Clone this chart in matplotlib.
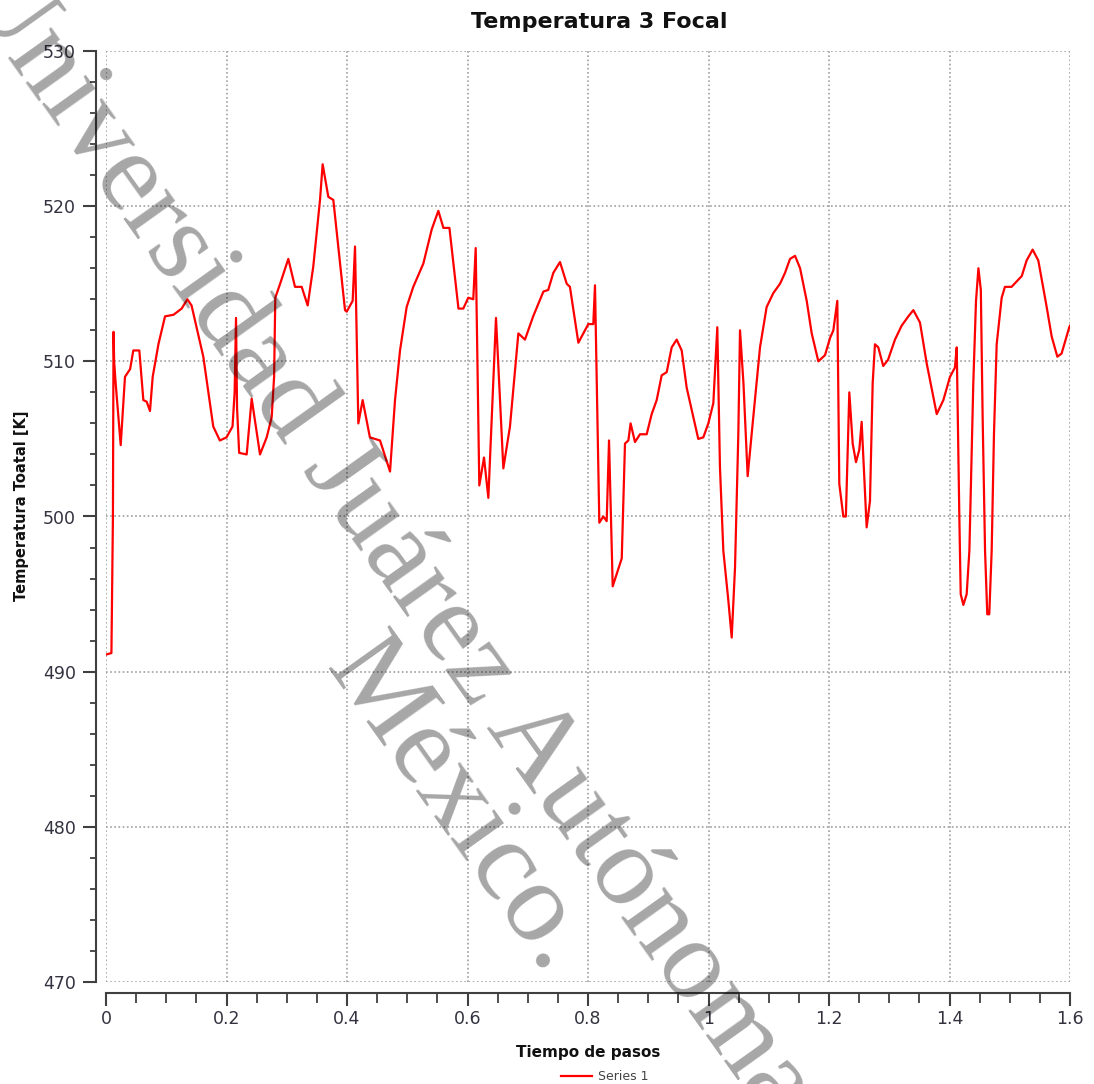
import matplotlib
matplotlib.use("Agg")
import matplotlib.pyplot as plt
from matplotlib.ticker import MultipleLocator, FixedLocator, FixedFormatter

# ---- data ----
tiempo = [0.000, 0.009, 0.0115, 0.0125, 0.0135, 0.016, 0.0244, 0.0315, 0.040, 0.0453,
          0.0553, 0.062, 0.0675, 0.073, 0.0775, 0.087, 0.098, 0.112, 0.1256, 0.135,
          0.142, 0.1615, 0.178, 0.189, 0.200, 0.210, 0.2135, 0.2158, 0.2175, 0.221,
          0.2335, 0.2418, 0.2556, 0.2667, 0.275, 0.279, 0.281, 0.289, 0.3026, 0.3137,
          0.3248, 0.3347, 0.344, 0.3552, 0.3596, 0.369, 0.3773, 0.3884, 0.3967, 0.3995,
          0.4094, 0.4133, 0.4188, 0.426, 0.438, 0.4548, 0.4714, 0.4797, 0.488, 0.499,
          0.510, 0.5267, 0.5406, 0.5516, 0.560, 0.570, 0.585, 0.593, 0.6013, 0.6096,
          0.6136, 0.6196, 0.6274, 0.6346, 0.6473, 0.6595, 0.6705, 0.6844, 0.6954, 0.709,
          0.726, 0.734, 0.7424, 0.7535, 0.7647, 0.770, 0.784, 0.7978, 0.8005, 0.8088,
          0.8116, 0.8188, 0.8254, 0.831, 0.8349, 0.841, 0.8476, 0.856, 0.8614, 0.867,
          0.8707, 0.878, 0.8863, 0.8974, 0.9057, 0.914, 0.9223, 0.9306, 0.9389, 0.9472,
          0.9555, 0.9638, 0.9748, 0.983, 0.9914, 0.9997, 1.008, 1.0146, 1.019, 1.0246,
          1.0329, 1.0385, 1.044, 1.0495, 1.0523, 1.058, 1.065, 1.0743, 1.0855, 1.0965,
          1.1076, 1.1187, 1.127, 1.1353, 1.1436, 1.152, 1.163, 1.1713, 1.1823, 1.1934,
          1.2017, 1.2072, 1.2138, 1.2171, 1.2238, 1.228, 1.2337, 1.2393, 1.2448, 1.2503,
          1.2542, 1.2625, 1.268, 1.2725, 1.2763, 1.2818, 1.29, 1.298, 1.3095, 1.3206,
          1.3317, 1.34, 1.351, 1.362, 1.3788, 1.3898, 1.4008, 1.409, 1.412, 1.4163,
          1.4186, 1.423, 1.4285, 1.433, 1.4395, 1.444, 1.448, 1.452, 1.455, 1.459,
          1.4627, 1.466, 1.47, 1.4738, 1.4783, 1.4866, 1.492, 1.503, 1.52, 1.528,
          1.538, 1.5474, 1.5613, 1.5696, 1.579, 1.586, 1.5988, 1.6]

temperatura = [491.1, 491.2, 500.0, 511.9, 510.0, 508.6, 504.6, 509.0, 509.5, 510.7,
               510.7, 507.5, 507.4, 506.8, 509.0, 511.1, 512.9, 513.0, 513.4, 514.0,
               513.6, 510.3, 505.8, 504.9, 505.1, 505.8, 508.0, 512.8, 507.0, 504.1,
               504.0, 507.6, 504.0, 505.1, 506.4, 509.0, 514.1, 515.0, 516.6, 514.8,
               514.8, 513.6, 516.1, 520.4, 522.7, 520.6, 520.4, 516.3, 513.3, 513.2,
               513.9, 517.4, 506.0, 507.5, 505.1, 504.9, 502.9, 507.5, 510.7, 513.5,
               514.8, 516.3, 518.5, 519.7, 518.6, 518.6, 513.4, 513.4, 514.1, 514.0,
               517.3, 502.0, 503.8, 501.2, 512.8, 503.1, 505.8, 511.8, 511.4, 512.9,
               514.5, 514.6, 515.7, 516.4, 515.0, 514.8, 511.2, 512.2, 512.4, 512.4,
               514.9, 499.6, 500.0, 499.7, 504.9, 495.5, 496.3, 497.3, 504.7, 504.9,
               506.0, 504.8, 505.3, 505.3, 506.6, 507.5, 509.1, 509.3, 510.9, 511.4,
               510.7, 508.3, 506.4, 505.0, 505.1, 506.0, 507.3, 512.2, 503.2, 497.8,
               494.6, 492.2, 496.7, 505.3, 512.0, 508.6, 502.6, 506.4, 510.9, 513.5,
               514.4, 515.0, 515.7, 516.6, 516.8, 516.0, 513.9, 511.8, 510.0, 510.4,
               511.5, 512.0, 513.9, 502.1, 500.0, 500.0, 508.0, 504.7, 503.5, 504.3,
               506.1, 499.3, 501.0, 508.6, 511.1, 510.9, 509.7, 510.1, 511.4, 512.3,
               512.9, 513.3, 512.5, 509.9, 506.6, 507.5, 509.0, 509.6, 510.9, 500.0,
               495.0, 494.3, 495.0, 497.8, 508.6, 513.9, 516.0, 514.6, 506.4, 497.8,
               493.7, 493.7, 497.8, 505.3, 511.1, 514.1, 514.8, 514.8, 515.5, 516.5,
               517.2, 516.5, 513.5, 511.6, 510.3, 510.5, 512.2, 512.3]

x_ticks = [0, 0.2, 0.4, 0.6, 0.8, 1.0, 1.2, 1.4, 1.6]
x_tick_labels = ["0", "0.2", "0.4", "0.6", "0.8", "1", "1.2", "1.4", "1.6"]
y_ticks = [470, 480, 490, 500, 510, 520, 530]
y_tick_labels = ["470", "480", "490", "500", "510", "520", "530"]

title = "Temperatura 3 Focal"
x_label = "Tiempo de pasos"
y_label = "Temperatura Toatal [K]"
series_name = "Series 1"
watermark_1 = "Universidad Juárez Autónoma"
watermark_2 = "México."

W, H = 1094, 1084
fig = plt.figure(figsize=(W / 100, H / 100), dpi=100)
ax = fig.add_axes([106 / W, 1 - 982 / H, (1070 - 106) / W, (982 - 51) / H])

line, = ax.plot(tiempo, temperatura, color="#ff0000", lw=1.6, label=series_name)

ax.set_xlim(0, 1.6)
ax.set_ylim(470, 530)

ax.xaxis.set_major_locator(FixedLocator(x_ticks))
ax.xaxis.set_major_formatter(FixedFormatter(x_tick_labels))
ax.xaxis.set_minor_locator(MultipleLocator(0.05))
ax.yaxis.set_major_locator(FixedLocator(y_ticks))
ax.yaxis.set_major_formatter(FixedFormatter(y_tick_labels))
ax.yaxis.set_minor_locator(MultipleLocator(2))

ax.grid(True, which="major", linestyle=(0, (1, 1.5)), color="#a0a0a0", lw=1.2)
ax.set_axisbelow(True)

for s in ["top", "right"]:
    ax.spines[s].set_visible(False)
ax.spines["left"].set_position(("outward", 7.2))
ax.spines["bottom"].set_position(("outward", 8.0))
for s in ["left", "bottom"]:
    ax.spines[s].set_color("#404040")
    ax.spines[s].set_linewidth(1.5)

ax.tick_params(axis="both", which="major", direction="out", length=9.5, width=1.5,
               color="#404040", labelsize=12.5, labelcolor="#333340")
ax.tick_params(axis="y", which="major", pad=5)
ax.tick_params(axis="x", which="major", pad=3)
ax.tick_params(axis="y", which="minor", direction="out", length=4.5, width=1.3,
               color="#404040")
ax.tick_params(axis="x", which="minor", direction="out", length=7, width=1.3,
               color="#404040")

fig.text(599 / W, 1 - 22 / H, title, ha="center", va="center",
         fontsize=16, fontweight="bold", color="#111111")
fig.text(588 / W, 1 - 1052 / H, x_label, ha="center", va="center",
         fontsize=11, fontweight="bold", color="#111111")
fig.text(22 / W, 1 - 506 / H, y_label, ha="center", va="center", rotation=90,
         fontsize=10.5, fontweight="bold", color="#111111")

fig.legend(handles=[line], loc="center", bbox_to_anchor=(605 / W, 1 - 1077 / H),
           frameon=False, fontsize=9, handlelength=2.5, handletextpad=0.5,
           labelcolor="#444444")

# watermark
wm = dict(fontsize=83, family="Liberation Serif", color="black", alpha=0.35,
          rotation=-54.5, rotation_mode="anchor", ha="left", va="baseline")
fig.text(-42 / W, 1 + 13 / H, watermark_1, **wm)
fig.text(324 / W, 1 - 668 / H, watermark_2, **wm)

fig.savefig("out.png", dpi=100)
